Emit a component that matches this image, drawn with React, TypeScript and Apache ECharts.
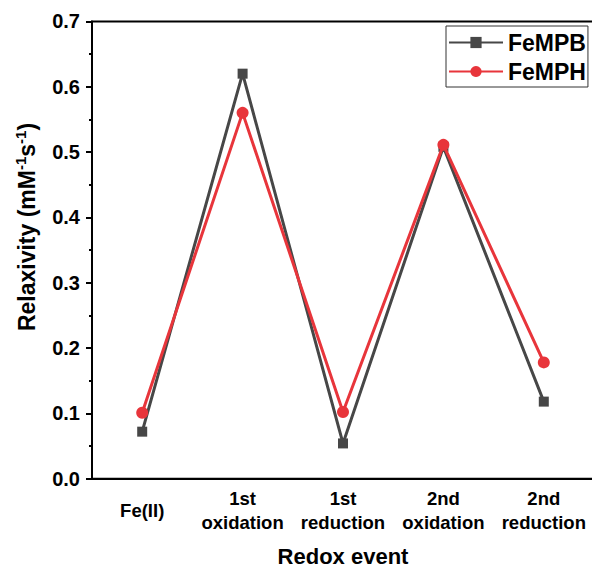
import React, { useEffect, useRef } from "react";
import * as echarts from "echarts";

const categories = ["Fe(II)", "1st\noxidation", "1st\nreduction", "2nd\noxidation", "2nd\nreduction"];
const feMPB = [0.072, 0.62, 0.054, 0.508, 0.118];
const feMPH = [0.101, 0.56, 0.102, 0.511, 0.178];
const yTicks = { min: 0, max: 0.7, interval: 0.1 };

const FONT = "'Liberation Sans', Arial, Helvetica, sans-serif";

export default function App() {
  const ref = useRef<HTMLDivElement>(null);
  useEffect(() => {
    if (!ref.current) return;
    const chart = echarts.init(ref.current, null, { renderer: "svg" });
    chart.setOption({
      animation: false,
      backgroundColor: "#ffffff",
      grid: {
        left: 92,
        top: 21.4,
        width: 502,
        height: 457.3,
        outerBoundsMode: "none",
        containLabel: false,
        show: true,
        borderColor: "#000",
        borderWidth: 2,
        backgroundColor: "transparent",
      },
      legend: {
        orient: "vertical",
        left: 446,
        top: 26,
        padding: [5, 2, 4, 2],
        itemWidth: 54,
        itemHeight: 14,
        itemGap: 6,
        borderColor: "#333",
        borderWidth: 1,
        textStyle: { fontFamily: FONT, fontWeight: "bold", fontSize: 23, color: "#000" },
        data: ["FeMPB", "FeMPH"],
      },
      xAxis: {
        type: "category",
        data: categories,
        boundaryGap: true,
        axisLine: { lineStyle: { color: "#000", width: 2 } },
        axisTick: { alignWithLabel: true, length: 5, lineStyle: { width: 2, color: "#000" } },
        axisLabel: {
          interval: 0,
          margin: 32,
          verticalAlign: "middle",
          lineHeight: 24,
          fontFamily: FONT,
          fontWeight: "bold",
          fontSize: 18.5,
          color: "#000",
        },
        name: "Redox event",
        nameLocation: "middle",
        nameGap: 67,
        nameTextStyle: { fontFamily: FONT, fontWeight: "bold", fontSize: 22, color: "#000", verticalAlign: "top" },
        splitLine: { show: false },
      },
      yAxis: {
        type: "value",
        min: yTicks.min,
        max: yTicks.max,
        interval: yTicks.interval,
        axisLine: { show: true, lineStyle: { color: "#000", width: 2 } },
        axisTick: { show: true, inside: false, length: 6, lineStyle: { width: 2, color: "#000" } },
        minorTick: { show: true, splitNumber: 2, length: 3, lineStyle: { width: 2, color: "#000" } },
        axisLabel: {
          margin: 12,
          formatter: (v: number) => v.toFixed(1),
          fontFamily: FONT,
          fontWeight: "bold",
          fontSize: 20,
          color: "#000",
        },
        splitLine: { show: false },
      },
      graphic: [
        {
          type: "text",
          x: 27,
          y: 227,
          rotation: Math.PI / 2,
          style: {
            text: "{m|Relaxivity (mM}{s|-1}{m|s}{s|-1}{m|)}",
            align: "center",
            verticalAlign: "middle",
            rich: {
              m: { fontFamily: FONT, fontWeight: "bold", fontSize: 23, fill: "#000", lineHeight: 28 },
              s: { fontFamily: FONT, fontWeight: "bold", fontSize: 15, fill: "#000", lineHeight: 28, verticalAlign: "top" },
            },
          },
        },
      ],
      series: [
        {
          name: "FeMPB",
          type: "line",
          data: feMPB,
          symbol: "rect",
          symbolSize: 10,
          itemStyle: { color: "#474747" },
          lineStyle: { color: "#474747", width: 3 },
          z: 2,
        },
        {
          name: "FeMPH",
          type: "line",
          data: feMPH,
          symbol: "circle",
          symbolSize: 12,
          itemStyle: { color: "#e8353b" },
          lineStyle: { color: "#e8353b", width: 3 },
          z: 3,
        },
      ],
    });
    return () => chart.dispose();
  }, []);
  return <div ref={ref} style={{ width: 592, height: 570, position: "absolute", left: 0, top: 0 }} />;
}
